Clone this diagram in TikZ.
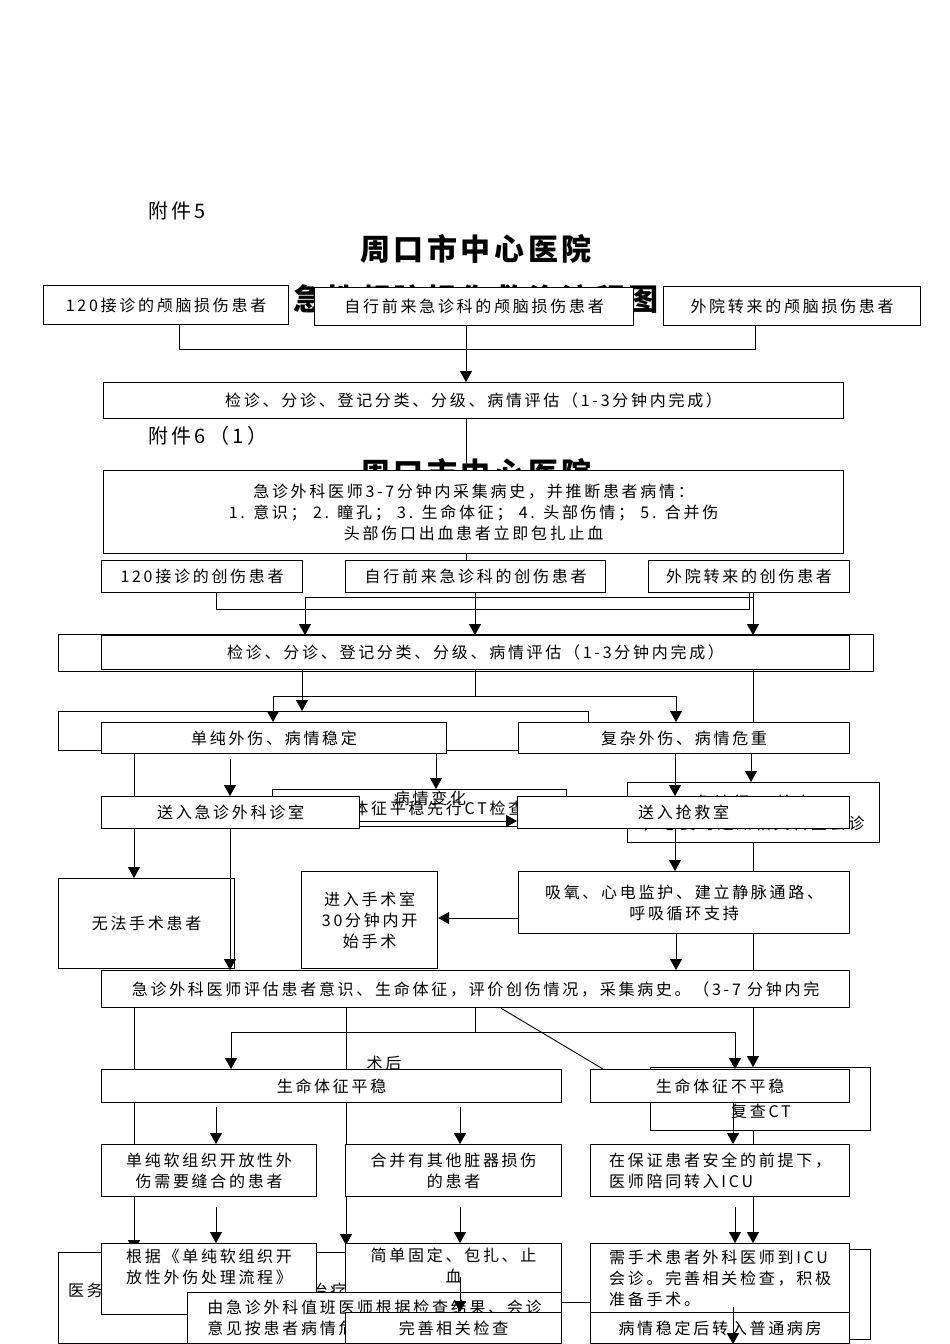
\documentclass[tikz,border=0pt]{standalone}
\usepackage{fontspec}
\newfontfamily\cjk[LetterSpace=17]{Noto Sans CJK SC}
\newfontfamily\cjkt[LetterSpace=12]{Noto Sans CJK SC}
\usetikzlibrary{arrows.meta}
\pgfdeclarelayer{paper}
\pgfdeclarelayer{back}
\pgfdeclarelayer{bg}
\pgfdeclarelayer{front}
\pgfsetlayers{paper,back,bg,main,front}
\tikzset{
  bx/.style={draw, line width=1.2pt, fill=white, inner sep=0pt, align=center, font=\cjk\fontsize{16}{21}\selectfont},
  bxl/.style={bx, align=left},
  ln/.style={line width=0.9pt},
  ar/.style={line width=0.9pt, -{Triangle[length=11pt,width=12pt]}},
  lbl/.style={font=\cjk\fontsize{16}{21}\selectfont, inner sep=0pt},
  ttl/.style={font=\cjkt\bfseries\fontsize{30}{34}\selectfont, inner sep=0pt},
  fj/.style={font=\cjk\fontsize{20}{22}\selectfont, inner sep=0pt, anchor=west},
}
\newcommand\mybox[7]{\node[#6, minimum width={(#4-#2)*1pt}, minimum height={(#5-#3)*1pt}, anchor=north west] (#1) at (#2,#3) {#7};}
\begin{document}
\begin{tikzpicture}[x=1pt,y=-1pt]
\useasboundingbox (0,0) rectangle (950,1344);
\begin{pgfonlayer}{paper}
\fill[white] (0,0) rectangle (950,1344);
\end{pgfonlayer}

% ---------- titles (behind) ----------
\begin{pgfonlayer}{back}
\node[fj] (t5) at (148,211) {附件5};
\node[ttl] (t1) at (476,249) {周口市中心医院};
\node[ttl] (t2) at (476,299) {急性颅脑损伤救治流程图};
\node[fj] (t6) at (148,436) {附件6（1）};
\node[ttl] (t3) at (476,473) {周口市中心医院};
% ---------- hidden boxes of the first chart ----------
\mybox{Eb}{58}{634}{873}{671}{bx}{}
\mybox{bk1}{58}{711}{588}{750}{bx}{}
\mybox{bk2}{272}{789}{566}{826}{bx}{生命体征平稳先行CT检查}
\mybox{bk3}{627}{782}{879}{842}{bx}{急诊行CT检查\\，必要时通知相关科室会诊}
\mybox{bk4}{650}{1067}{870}{1130}{bx}{}
\node[lbl] (ct) at (761,1111) {复查CT};
\mybox{bk5}{58}{1252}{346}{1343}{bx}{}
\node[lbl, anchor=west] (yw) at (68,1290) {医务科协调相关临床科室会诊治疗};
\mybox{bk6}{650}{1249}{870}{1339}{bx}{}
\end{pgfonlayer}

% ---------- main boxes ----------
\mybox{A1}{43}{285}{288}{324}{bx}{120接诊的颅脑损伤患者}
\mybox{A2}{314}{287}{633}{325}{bx}{自行前来急诊科的颅脑损伤患者}
\mybox{A3}{663}{286}{920}{325}{bx}{外院转来的颅脑损伤患者}
\mybox{B1}{103}{382}{843}{418}{bx}{检诊、分诊、登记分类、分级、病情评估（1-3分钟内完成）}
\mybox{C1}{103}{470}{843}{553}{bx}{急诊外科医师3-7分钟内采集病史，并推断患者病情：\\1. 意识； 2. 瞳孔； 3. 生命体征； 4. 头部伤情； 5. 合并伤\\头部伤口出血患者立即包扎止血}
\mybox{D1}{101}{560}{302}{592}{bx}{120接诊的创伤患者}
\mybox{D2}{345}{560}{605}{592}{bx}{自行前来急诊科的创伤患者}
\mybox{D3}{648}{560}{849}{592}{bx}{外院转来的创伤患者}
\mybox{E1}{101}{635}{849}{669}{bx}{检诊、分诊、登记分类、分级、病情评估（1-3分钟内完成）}
\mybox{F1}{101}{722}{446}{753}{bx}{单纯外伤、病情稳定}
\mybox{F2}{518}{722}{849}{753}{bx}{复杂外伤、病情危重}
\mybox{G1}{101}{796}{359}{828}{bx}{送入急诊外科诊室}
\mybox{G2}{517}{796}{849}{828}{bx}{送入抢救室}
\mybox{H1}{58}{878}{234}{968}{bx}{无法手术患者}
\mybox{H2}{301}{871}{437}{968}{bx}{进入手术室\\30分钟内开\\始手术}
\mybox{H3}{518}{871}{849}{933}{bx}{吸氧、心电监护、建立静脉通路、\\呼吸循环支持}
\mybox{I1}{101}{970}{849}{1007}{bx}{急诊外科医师评估患者意识、生命体征，评价创伤情况，采集病史。（3-7 分钟内完}
\mybox{J1}{101}{1069}{561}{1102}{bx}{生命体征平稳}
\mybox{J2}{590}{1069}{849}{1102}{bx}{生命体征不平稳}
\mybox{K1}{101}{1144}{316}{1196}{bx}{单纯软组织开放性外\\伤需要缝合的患者}
\mybox{K2}{345}{1144}{561}{1196}{bx}{合并有其他脏器损伤\\的患者}
\mybox{K3}{590}{1144}{849}{1196}{bxl}{在保证患者安全的前提下，\\医师陪同转入ICU}
\mybox{L1}{101}{1243}{316}{1314}{bxl}{根据《单纯软组织开\\放性外伤处理流程》\\[4pt]}
\mybox{L2}{345}{1243}{561}{1312}{bx}{简单固定、包扎、止\\血\\[4pt]}
\mybox{N1}{590}{1243}{849}{1312}{bxl}{需手术患者外科医师到ICU\\会诊。完善相关检查，积极\\准备手术。}
\mybox{N2}{590}{1312}{849}{1343}{bx}{病情稳定后转入普通病房}

\begin{pgfonlayer}{front}
\mybox{P1}{187}{1292}{561}{1343}{bxl}{由急诊外科值班医师根据检查结果、会诊\\意见按患者病情危重程度收入相关科室}
\mybox{M2}{345}{1312}{561}{1343}{bx}{完善相关检查}
\end{pgfonlayer}

% ---------- connectors (behind boxes) ----------
\begin{pgfonlayer}{bg}
\draw[ln] (179,0 |- A1.south) -- (179,349) -- (755,349) -- (755,0 |- A3.south);
\draw[ar] (466,0 |- A2.south) -- (466,0 |- B1.north);
\draw[ln] (466,0 |- B1.south) -- (466,0 |- C1.north);
\draw[ln] (466,0 |- C1.south) -- (466,0 |- D2.north);
\draw[ln] (216,0 |- D1.south) -- (216,609) -- (749,609) -- (749,0 |- D3.south);
\draw[ln] (305,597) -- (753,597);
\draw[ar] (305,597) -- (305,0 |- E1.north);
\draw[ar] (475,0 |- D2.south) -- (475,0 |- E1.north);
\draw[ar] (753,0 |- D3.south) -- (753,0 |- E1.north);
\draw[ar] (302,0 |- E1.south) -- (302,0 |- bk1.north);
\draw[ln] (475,0 |- E1.south) -- (475,696);
\draw[ln] (273,696) -- (676,696);
\draw[ar] (273,696) -- (273,0 |- F1.north);
\draw[ar] (676,696) -- (676,0 |- F2.north);
\draw[ln] (753,0 |- E1.south) -- (753,0 |- F2.north);
\draw[ar] (134,0 |- F1.south) -- (134,0 |- H1.north);
\draw[ar] (230,759) -- (230,0 |- G1.north);
\draw[ar] (436,0 |- F1.south) -- (436,0 |- bk2.north);
\draw[ar] (G1.east |- 0,821) -- (G2.west |- 0,821);
\node[lbl] (bq) at (430,798) {病情变化};
\draw[ar] (675,0 |- F2.south) -- (675,0 |- G2.north);
\draw[ar] (751,0 |- F2.south) -- (751,0 |- bk3.north);
\draw[ar] (675,0 |- G2.south) -- (675,0 |- H3.north);
\draw[ar] (753,0 |- bk3.south) -- (753,0 |- bk4.north);
\draw[ar] (H3.west |- 0,918) -- (H2.east |- 0,918);
\draw[ar] (676,0 |- H3.south) -- (676,0 |- I1.north);
\draw[ar] (134,0 |- I1.south) -- (134,1251);
\draw[ar] (346,0 |- I1.south) -- (346,1245);
\draw[ln] (475,0 |- I1.south) -- (475,1032);
\draw[ln] (231,1032) -- (735,1032);
\draw[ar] (231,1032) -- (231,0 |- J1.north);
\draw[ar] (735,1032) -- (735,0 |- J2.north);
\draw[ln] (501,0 |- I1.south) -- (603,0 |- J2.north);
\node[lbl] (sh) at (384,1063) {术后};
\draw[ar] (216,1107) -- (216,0 |- K1.north);
\draw[ar] (460,1107) -- (460,0 |- K2.north);
\draw[ar] (733,0 |- J2.south) -- (733,0 |- K3.north);
\draw[ar] (753,0 |- bk4.south) -- (753,0 |- N1.north);
\draw[ar] (216,1207) -- (216,0 |- L1.north);
\draw[ar] (460,1207) -- (460,0 |- L2.north);
\draw[ar] (735,1207) -- (735,0 |- N1.north);
\draw[ln] (P1.east |- 0,1302) -- (N1.west |- 0,1302);
\end{pgfonlayer}

% ---------- connectors on top ----------
\begin{pgfonlayer}{front}
\draw[ar] (230,0 |- G1.south) -- (230,0 |- I1.north);
\draw[ar] (460,1277) -- (460,0 |- M2.north);
\draw[ar] (733,1307) -- (733,0 |- N2.south);
\end{pgfonlayer}
\end{tikzpicture}
\end{document}
